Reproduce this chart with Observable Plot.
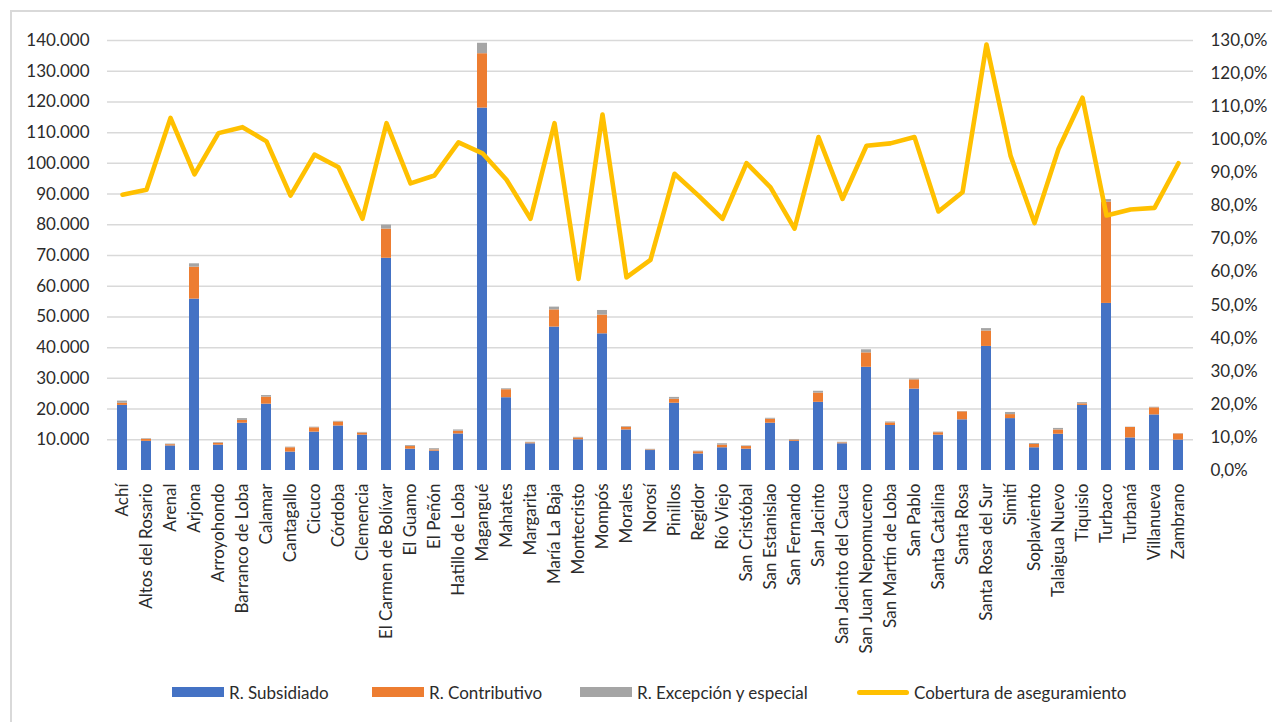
<!DOCTYPE html>
<html>
<head>
<meta charset="utf-8">
<script src="https://cdn.jsdelivr.net/npm/d3@7"></script>
<script src="https://cdn.jsdelivr.net/npm/@observablehq/plot@0.6"></script>
<style>
  html, body { margin: 0; padding: 0; background: #fff; }
  body { width: 1272px; height: 722px; position: relative; overflow: hidden; font-family: Lato, sans-serif; }
  #frame { position: absolute; left: 10px; top: 10px; width: 1400px; height: 800px;
           border-left: 2px solid #d9d9d9; border-top: 2px solid #d9d9d9; }
  #chart { position: absolute; left: 0; top: 0; }
  #legend { position: absolute; left: 0; top: 672px; width: 1272px; height: 40px; font-size: 17px; color: #2b2b2b; }
  .item { position: absolute; top: 0; height: 40px; display: flex; align-items: center; white-space: nowrap; }
  .sw { width: 52px; height: 10px; margin-right: 5px; }
  .ln { width: 52px; height: 5px; border-radius: 3px; margin-right: 5px; }
</style>
</head>
<body>
<div id="frame"></div>
<div id="chart"></div>
<div id="legend"></div>
<script>
// ---- Data ----
const municipios = ["Achí","Altos del Rosario","Arenal","Arjona","Arroyohondo","Barranco de Loba","Calamar","Cantagallo","Cicuco","Córdoba","Clemencia","El Carmen de Bolívar","El Guamo","El Peñón","Hatillo de Loba","Magangué","Mahates","Margarita","María La Baja","Montecristo","Mompós","Morales","Norosí","Pinillos","Regidor","Río Viejo","San Cristóbal","San Estanislao","San Fernando","San Jacinto","San Jacinto del Cauca","San Juan Nepomuceno","San Martín de Loba","San Pablo","Santa Catalina","Santa Rosa","Santa Rosa del Sur","Simití","Soplaviento","Talaigua Nuevo","Tiquisio","Turbaco","Turbaná","Villanueva","Zambrano"];

const subsidiado = [21200,9500,8000,55800,8250,15400,21600,6000,12500,14500,11500,69100,6950,6300,11900,118000,23700,8700,46700,10000,44500,13200,6500,21900,5400,7400,6950,15400,9500,22200,8700,33600,14650,26500,11500,16500,40400,16900,7400,11800,21200,54400,10600,18100,9900];

const contributivo = [700,650,400,10400,650,900,2300,1400,1400,1300,700,9500,850,400,900,17700,2600,300,5600,600,6100,900,200,1300,700,850,850,1300,400,3000,300,4700,850,3000,800,2600,5000,1300,1100,1400,500,33000,3400,2300,2000];

const excepcion = [700,200,200,1100,200,600,500,200,200,200,200,1300,300,400,400,3400,300,200,900,200,1500,200,200,600,200,450,200,300,200,600,200,1000,300,300,200,100,800,700,300,500,400,800,100,200,100];

const cobertura = [83.4,84.9,106.6,89.5,102.0,103.8,99.5,83.1,95.5,91.7,76.1,105.0,86.8,89.2,99.2,95.9,87.9,76.1,105.0,57.9,107.6,58.4,63.7,89.7,83.1,76.1,92.9,85.6,73.1,100.8,82.1,98.2,98.9,100.8,78.3,84.1,128.8,95.2,74.8,97.2,112.7,77.1,78.9,79.4,92.9];

const regimenes = ["R. Subsidiado","R. Contributivo","R. Excepción y especial"];
const colores = ["#4472c4","#ed7d31","#a5a5a5"];
const lineaNombre = "Cobertura de aseguramiento";
const lineaColor = "#ffc000";

const ticksY = [10000,20000,30000,40000,50000,60000,70000,80000,90000,100000,110000,120000,130000,140000];
const ticksP = [0,0.1,0.2,0.3,0.4,0.5,0.6,0.7,0.8,0.9,1.0,1.1,1.2,1.3];

// ---- Build ----
const YMAX = 140000, PMAX = 1.3;
const toY = p => p / PMAX * YMAX;
const loc = d3.formatLocale({decimal: ",", thousands: ".", grouping: [3], currency: ["$", ""]});
const fmtN = loc.format(",.0f");
const fmtP = loc.format(".1%");

const series = [subsidiado, contributivo, excepcion];
const rows = [];
municipios.forEach((m, i) => {
  regimenes.forEach((r, k) => rows.push({m, r, v: series[k][i]}));
});
const lineRows = municipios.map((m, i) => ({m, c: cobertura[i] / 100}));

const chart = Plot.plot({
  width: 1272,
  height: 672,
  marginLeft: 107,
  marginRight: 79,
  marginTop: 40,
  marginBottom: 202,
  style: {fontFamily: "Lato, sans-serif", fontSize: "17px", color: "#2b2b2b", background: "transparent"},
  x: {domain: municipios, paddingInner: 0.59, paddingOuter: 0.295, label: null},
  y: {domain: [0, YMAX], label: null},
  color: {domain: regimenes, range: colores},
  marks: [
    Plot.gridY(ticksY, {stroke: "#d9d9d9", strokeOpacity: 1, strokeWidth: 1.5}),
    Plot.axisY(ticksY, {anchor: "left", tickSize: 0, tickPadding: 18, tickFormat: fmtN, fontSize: 17, label: null}),
    Plot.axisY(ticksP.map(toY), {anchor: "right", tickSize: 0, tickPadding: 17, fontSize: 17,
      tickFormat: v => fmtP(Math.round(v / YMAX * PMAX * 1000) / 1000), label: null}),
    Plot.axisX({tickRotate: -90, tickSize: 0, tickPadding: 13, fontSize: 17, label: null}),
    Plot.barY(rows, {x: "m", y: "v", fill: "r", order: regimenes}),
    Plot.line(lineRows, {x: "m", y: d => toY(d.c), stroke: lineaColor, strokeWidth: 4.6,
      strokeLinejoin: "round", strokeLinecap: "round"})
  ]
});
document.getElementById("chart").appendChild(chart);

// ---- Legend ----
const legend = document.getElementById("legend");
const lefts = [172, 372, 580, 857];
regimenes.forEach((r, k) => {
  const it = document.createElement("div");
  it.className = "item";
  it.style.left = lefts[k] + "px";
  it.innerHTML = `<span class="sw" style="background:${colores[k]}"></span><span>${r}</span>`;
  legend.appendChild(it);
});
const li = document.createElement("div");
li.className = "item";
li.style.left = lefts[3] + "px";
li.innerHTML = `<span class="ln" style="background:${lineaColor}"></span><span>${lineaNombre}</span>`;
legend.appendChild(li);
</script>
</body>
</html>
